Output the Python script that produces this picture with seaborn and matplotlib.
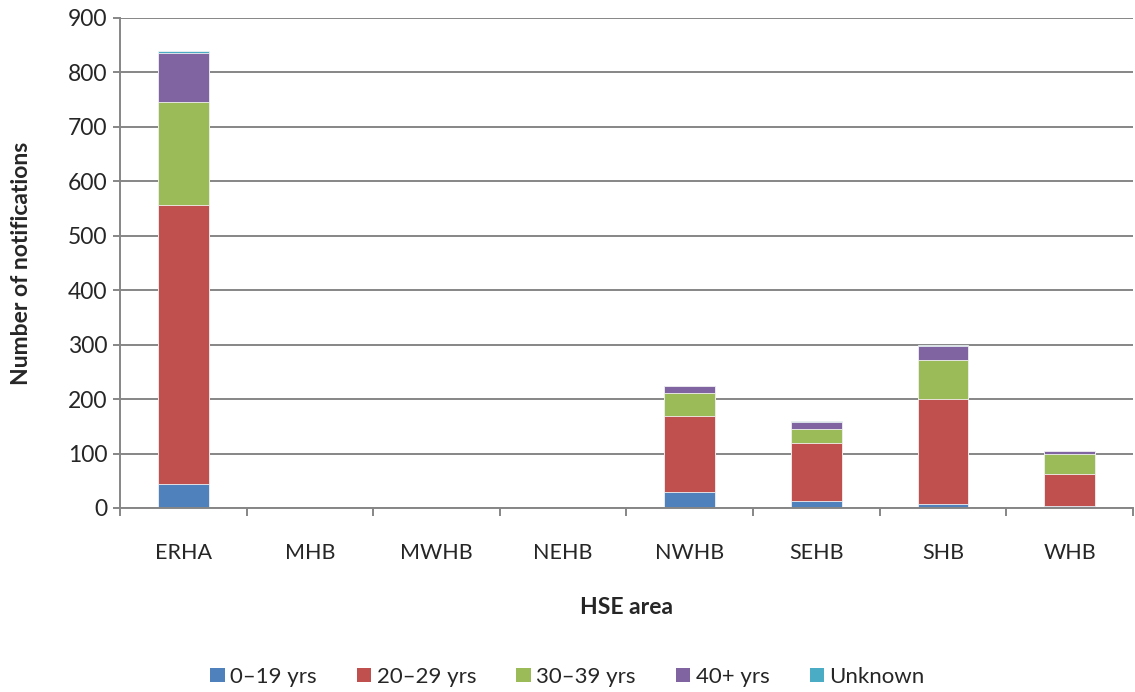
import numpy as np
import pandas as pd
import matplotlib
matplotlib.use("Agg")
import matplotlib.pyplot as plt
import seaborn as sns
from matplotlib.patches import Patch

areas = ["ERHA", "MHB", "MWHB", "NEHB", "NWHB", "SEHB", "SHB", "WHB"]
age_0_19 = [44, 0, 0, 0, 29, 12, 7, 3]
age_20_29 = [512, 0, 0, 0, 140, 107, 193, 59]
age_30_39 = [190, 0, 0, 0, 43, 27, 71, 38]
age_40_plus = [90, 0, 0, 0, 12, 12, 26, 4]
unknown = [4, 0, 0, 0, 0, 2, 3, 0]

series_names = ["0\u201319 yrs", "20\u201329 yrs", "30\u201339 yrs", "40+ yrs", "Unknown"]
colors = ["#4F81BD", "#C0504D", "#9BBB59", "#8064A2", "#4BACC6"]

sns.set_style("white")
plt.rcParams["font.family"] = ["Lato", "DejaVu Sans"]

df = pd.DataFrame({
    "area": areas,
    series_names[0]: age_0_19,
    series_names[1]: age_20_29,
    series_names[2]: age_30_39,
    series_names[3]: age_40_plus,
    series_names[4]: unknown,
})
cum = df[series_names].cumsum(axis=1)

fig = plt.figure(figsize=(11.35, 6.92), dpi=100)
ax = fig.add_axes([0.1057, 0.2659, 0.8925, 0.7081])

# stacked bars: draw cumulative totals from the top segment down
for name, color in reversed(list(zip(series_names, colors))):
    sns.barplot(x=df["area"], y=cum[name], color=color, width=0.4,
                order=areas, ax=ax, edgecolor="#F2F2F2", linewidth=0.6,
                saturation=1)

ax.set_ylim(0, 900)
ax.set_yticks(np.arange(0, 901, 100))
ax.set_xlim(-0.5, len(areas) - 0.5)
ax.yaxis.grid(True, color="#868686", linewidth=1.4)
ax.set_axisbelow(True)

for side in ["top", "right"]:
    ax.spines[side].set_visible(False)
for side in ["left", "bottom"]:
    ax.spines[side].set_color("#868686")
    ax.spines[side].set_linewidth(1.4)

ax.tick_params(axis="y", which="major", left=True, length=5, width=1.4,
               color="#868686", labelsize=16.5, pad=4)
ax.tick_params(axis="x", which="major", bottom=False, labelsize=15.5, pad=22)
ax.set_xticks(np.arange(-0.5, len(areas)), minor=True)
ax.tick_params(axis="x", which="minor", bottom=True, length=6, width=1.4,
               color="#868686")

ax.set_xlabel("HSE area", fontsize=16.5, fontweight="bold", labelpad=24)
ax.set_ylabel("Number of notifications", fontsize=16.5, fontweight="bold", labelpad=26)

handles = [Patch(facecolor=c, edgecolor="none") for c in colors]
fig.legend(handles, series_names, loc="center", bbox_to_anchor=(0.5, 0.022),
           ncol=5, frameon=False, fontsize=16, handlelength=0.65,
           handleheight=0.65, handletextpad=0.25, columnspacing=1.8)

fig.savefig("out.png", dpi=100)
